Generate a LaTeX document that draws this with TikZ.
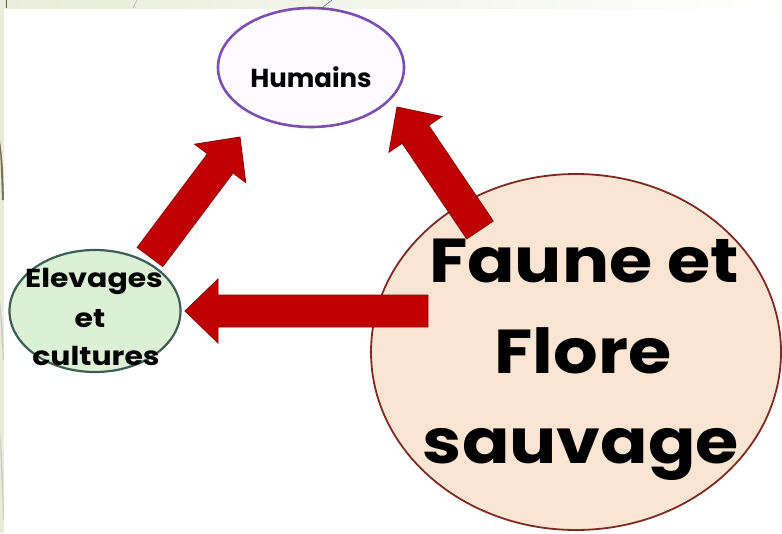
\documentclass[tikz,border=0pt]{standalone}
\usepackage{fontspec}
\setmainfont{Poppins}
\newfontfamily\elevfont{Poppins}[FakeStretch=1.15]
\newfontfamily\faunefont{Poppins}[FakeStretch=1.13]
\usetikzlibrary{shapes.geometric,calc}
\definecolor{bandgreen}{HTML}{E8ECD8}
\definecolor{humstroke}{HTML}{7A4FB0}
\definecolor{humfill}{HTML}{FDFBFF}
\definecolor{elevfill}{HTML}{DCF0D6}
\definecolor{elevstroke}{HTML}{3D5E55}
\definecolor{faunefill}{HTML}{FAE5D3}
\definecolor{faunestroke}{HTML}{7B2B22}
\definecolor{arrowred}{HTML}{C00000}
\definecolor{arrowedge}{HTML}{8B0000}
\definecolor{streak}{HTML}{7A7255}
\tikzset{
  oval/.style={ellipse, inner sep=0pt, outer sep=0pt},
  label text/.style={anchor=base, text=black, inner sep=0pt},
  humtxt/.style={label text, font=\fontsize{26}{30}\selectfont\bfseries},
  elevtxt/.style={label text, font=\elevfont\fontsize{26}{30}\selectfont\bfseries},
  faunetxt/.style={label text, font=\faunefont\fontsize{62}{90}\selectfont\bfseries},
  blockarrow/.style={fill=arrowred, draw=arrowedge, line width=0.8pt, line join=miter},
}
\newcommand\redblockarrow[2]{%
  \path[blockarrow]
    ($(#1)!16pt!90:(#2)$) --
    ($($(#2)!33pt!(#1)$)!16pt!-90:(#1)$) --
    ($($(#2)!33pt!(#1)$)!32pt!-90:(#1)$) --
    (#2) --
    ($($(#2)!33pt!(#1)$)!32pt!90:(#1)$) --
    ($($(#2)!33pt!(#1)$)!16pt!90:(#1)$) --
    ($(#1)!16pt!-90:(#2)$) -- cycle;}
\begin{document}
\begin{tikzpicture}[x=1pt,y=-1pt]
\useasboundingbox (0,0) rectangle (782,533);
% slide decoration
\shade[left color=bandgreen, right color=white] (0,0) rectangle (782,8);
\fill[bandgreen] (0,0) rectangle (4,533);
\draw[streak!80!black, line width=1.2pt] (6.5,0) -- (6.5,8);
\draw[gray!60, line width=0.5pt] (133,8) -- (137,0);
\draw[gray!80!black, line width=0.5pt] (323,7) -- (332,0);
\fill[streak] (0,140) .. controls (3,165) .. (4,200) -- (2,200) .. controls (1,170) .. (0,150) -- cycle;
\fill[black!20] (0,300) .. controls (3,330) .. (4,360) -- (3,360) .. controls (1,330) .. (0,310) -- cycle;
\fill[black!20] (0,430) .. controls (3,470) .. (4,520) -- (3,520) .. controls (1,480) .. (0,440) -- cycle;
% ellipses
\node[oval, draw=humstroke, fill=humfill, line width=2.6pt, minimum width=186pt, minimum height=119pt] (hum) at (311,67.5) {};
\node[oval, draw=elevstroke, fill=elevfill, line width=2.2pt, minimum width=171pt, minimum height=122pt] (elev) at (95,311) {};
\node[oval, draw=faunestroke, fill=faunefill, line width=1.8pt, minimum width=410pt, minimum height=356pt] (faune) at (576,352) {};
% arrow ends
\coordinate (a1s) at (150,257);
\coordinate (a1e) at (240,137);
\coordinate (a2s) at (480,230);
\coordinate (a2e) at (397,107);
\coordinate (a3s) at (428,311);
\coordinate (a3e) at (185,311);
\redblockarrow{a1s}{a1e}
\redblockarrow{a2s}{a2e}
\redblockarrow{a3s}{a3e}
% texts
\node[humtxt] (humtext) at (311,87) {Humains};
\node[elevtxt] (elevtext1) at (94,287) {Elevages};
\node[elevtxt] (elevtext2) at (90,327) {et};
\node[elevtxt] (elevtext3) at (96,365) {cultures};
\node[faunetxt] (faunetext1) at (584,282) {Faune et};
\node[faunetxt] (faunetext2) at (583,373) {Flore};
\node[faunetxt] (faunetext3) at (581,463) {sauvage};
\end{tikzpicture}
\end{document}
